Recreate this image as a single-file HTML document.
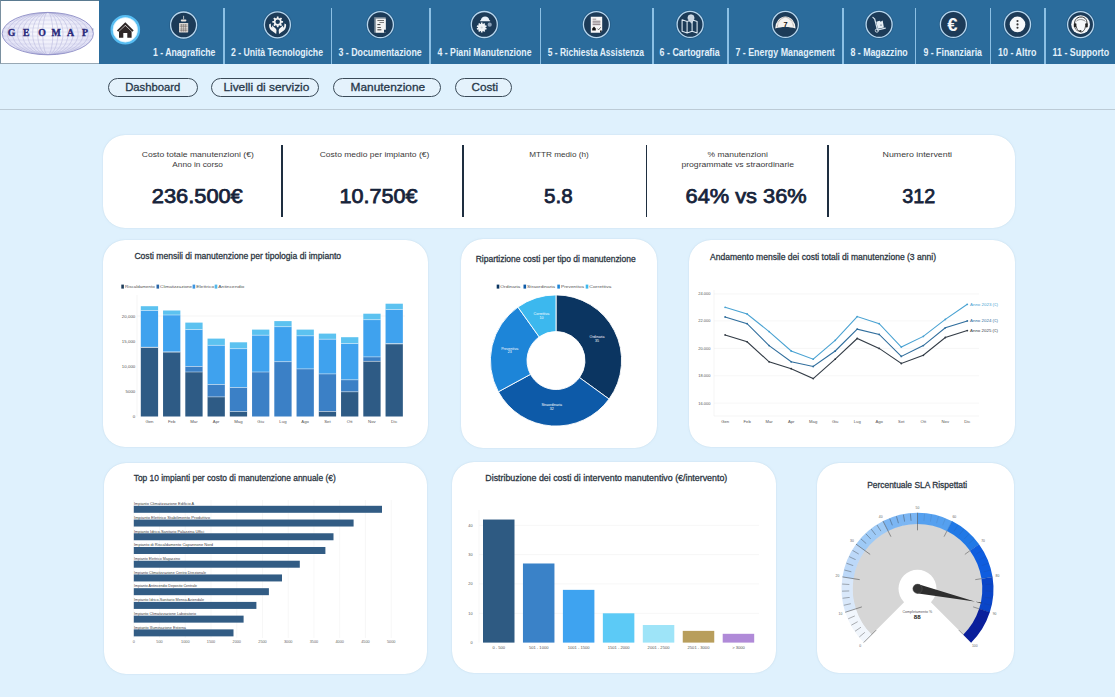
<!DOCTYPE html>
<html><head><meta charset="utf-8">
<style>
*{margin:0;padding:0;box-sizing:border-box}
html,body{width:1115px;height:697px;overflow:hidden;background:#dff1fd;font-family:"Liberation Sans",sans-serif}
#hdr{position:absolute;left:0;top:0;width:1115px;height:64px;background:#2b6c9c}
#logo{position:absolute;left:0;top:0;width:99px;height:64px;background:#fff;border-top:1px solid #5a7a90;border-left:1px solid #7a90a0;border-bottom:1px solid #98a8b4}
.sep{position:absolute;top:8px;width:1.6px;height:56px;background:#8cc0e4}
#line{position:absolute;left:0;top:108.7px;width:1115px;height:1.6px;background:#bccbd6}
.pill{position:absolute;top:78px;height:19px;border:1.3px solid #3a4a58;border-radius:10px;background:#e4f2fc}
.card{position:absolute;background:#fff;border-radius:22px;box-shadow:0 0 1.5px rgba(150,185,210,0.55)}
.kdiv{position:absolute;top:145px;width:1.6px;height:72px;background:#1e2e40}
</style></head><body>
<div id="hdr">
  <div id="logo"></div>
  <div class="sep" style="left:223px"></div>
  <div class="sep" style="left:330.5px"></div>
  <div class="sep" style="left:429px"></div>
  <div class="sep" style="left:539.5px"></div>
  <div class="sep" style="left:652px"></div>
  <div class="sep" style="left:727px"></div>
  <div class="sep" style="left:842px"></div>
  <div class="sep" style="left:914.5px"></div>
  <div class="sep" style="left:989.5px"></div>
  <div class="sep" style="left:1044px"></div>
</div>
<div id="line"></div>
<div class="pill" style="left:108px;width:90px"></div>
<div class="pill" style="left:211px;width:108px"></div>
<div class="pill" style="left:333px;width:107.5px"></div>
<div class="pill" style="left:455px;width:56.5px"></div>

<div class="card" style="left:102.5px;top:135px;width:912px;height:93.2px"></div>
<div class="card" style="left:103px;top:239.5px;width:325px;height:207.3px"></div>
<div class="card" style="left:460.7px;top:239.2px;width:196.3px;height:209.3px"></div>
<div class="card" style="left:688.6px;top:239.5px;width:326px;height:207.3px"></div>
<div class="card" style="left:104px;top:463px;width:323px;height:210.7px"></div>
<div class="card" style="left:452px;top:462px;width:323.8px;height:210.8px"></div>
<div class="card" style="left:817.4px;top:462.5px;width:197.1px;height:210.2px"></div>
<div class="kdiv" style="left:281px"></div>
<div class="kdiv" style="left:462px"></div>
<div class="kdiv" style="left:645.6px"></div>
<div class="kdiv" style="left:827px"></div>
<svg width="1115" height="697" viewBox="0 0 1115 697" style="position:absolute;left:0;top:0" font-family="Liberation Sans, sans-serif"><text x="134.4" y="259" font-size="8.6" fill="#2c3642" text-anchor="start" font-weight="normal" textLength="206.7" lengthAdjust="spacingAndGlyphs" stroke="#2c3642" stroke-width="0.28">Costi mensili di manutenzione per tipologia di impianto</text><rect x="121.30" y="284.60" width="2.60" height="4.00" fill="#1e3d5c"/><text x="124.89999999999999" y="288.4" font-size="4.0" fill="#555" text-anchor="start" font-weight="normal" textLength="30" lengthAdjust="spacingAndGlyphs">Riscaldamento</text><rect x="156.50" y="284.60" width="2.60" height="4.00" fill="#2b66a8"/><text x="160.1" y="288.4" font-size="4.0" fill="#555" text-anchor="start" font-weight="normal" textLength="32" lengthAdjust="spacingAndGlyphs">Climatizzazione</text><rect x="192.60" y="284.60" width="2.60" height="4.00" fill="#3d95e0"/><text x="196.2" y="288.4" font-size="4.0" fill="#555" text-anchor="start" font-weight="normal" textLength="18" lengthAdjust="spacingAndGlyphs">Elettrico</text><rect x="214.70" y="284.60" width="2.60" height="4.00" fill="#54b8ea"/><text x="218.29999999999998" y="288.4" font-size="4.0" fill="#555" text-anchor="start" font-weight="normal" textLength="26" lengthAdjust="spacingAndGlyphs">Antincendio</text><line x1="137.00" y1="295.00" x2="137.00" y2="416.50" stroke="#eeeeee" stroke-width="0.6"/><line x1="137.00" y1="316.00" x2="405.00" y2="316.00" stroke="#eeeeee" stroke-width="0.6"/><text x="135.3" y="317.5" font-size="4.4" fill="#555" text-anchor="end" font-weight="normal">20,000</text><text x="135.3" y="342.7" font-size="4.4" fill="#555" text-anchor="end" font-weight="normal">15,000</text><text x="135.3" y="367.9" font-size="4.4" fill="#555" text-anchor="end" font-weight="normal">10,000</text><text x="135.3" y="393.2" font-size="4.4" fill="#555" text-anchor="end" font-weight="normal">5000</text><text x="135.3" y="418.0" font-size="4.4" fill="#555" text-anchor="end" font-weight="normal">0</text><rect x="140.80" y="306.20" width="17.30" height="4.30" fill="#5cc2f0"/><rect x="140.80" y="310.50" width="17.30" height="36.80" fill="#3fa2ee"/><rect x="140.80" y="347.30" width="17.30" height="69.20" fill="#2e5b85"/><rect x="140.80" y="310.10" width="17.30" height="0.80" fill="#ffffff" opacity="0.55"/><rect x="140.80" y="346.90" width="17.30" height="0.80" fill="#ffffff" opacity="0.55"/><rect x="140.80" y="346.90" width="17.30" height="0.80" fill="#ffffff" opacity="0.55"/><text x="149.45000000000002" y="423" font-size="4.3" fill="#555" text-anchor="middle" font-weight="normal">Gen</text><rect x="163.05" y="310.50" width="17.30" height="4.50" fill="#5cc2f0"/><rect x="163.05" y="315.00" width="17.30" height="37.00" fill="#3fa2ee"/><rect x="163.05" y="352.00" width="17.30" height="64.50" fill="#2e5b85"/><rect x="163.05" y="314.60" width="17.30" height="0.80" fill="#ffffff" opacity="0.55"/><rect x="163.05" y="351.60" width="17.30" height="0.80" fill="#ffffff" opacity="0.55"/><rect x="163.05" y="351.60" width="17.30" height="0.80" fill="#ffffff" opacity="0.55"/><text x="171.70000000000002" y="423" font-size="4.3" fill="#555" text-anchor="middle" font-weight="normal">Feb</text><rect x="185.30" y="322.60" width="17.30" height="7.00" fill="#5cc2f0"/><rect x="185.30" y="329.60" width="17.30" height="36.80" fill="#3fa2ee"/><rect x="185.30" y="366.40" width="17.30" height="5.60" fill="#3b80c6"/><rect x="185.30" y="372.00" width="17.30" height="44.50" fill="#2e5b85"/><rect x="185.30" y="329.20" width="17.30" height="0.80" fill="#ffffff" opacity="0.55"/><rect x="185.30" y="366.00" width="17.30" height="0.80" fill="#ffffff" opacity="0.55"/><rect x="185.30" y="371.60" width="17.30" height="0.80" fill="#ffffff" opacity="0.55"/><text x="193.95000000000002" y="423" font-size="4.3" fill="#555" text-anchor="middle" font-weight="normal">Mar</text><rect x="207.55" y="338.60" width="17.30" height="6.70" fill="#5cc2f0"/><rect x="207.55" y="345.30" width="17.30" height="39.20" fill="#3fa2ee"/><rect x="207.55" y="384.50" width="17.30" height="12.40" fill="#3b80c6"/><rect x="207.55" y="396.90" width="17.30" height="19.60" fill="#2e5b85"/><rect x="207.55" y="344.90" width="17.30" height="0.80" fill="#ffffff" opacity="0.55"/><rect x="207.55" y="384.10" width="17.30" height="0.80" fill="#ffffff" opacity="0.55"/><rect x="207.55" y="396.50" width="17.30" height="0.80" fill="#ffffff" opacity="0.55"/><text x="216.20000000000002" y="423" font-size="4.3" fill="#555" text-anchor="middle" font-weight="normal">Apr</text><rect x="229.80" y="342.30" width="17.30" height="6.40" fill="#5cc2f0"/><rect x="229.80" y="348.70" width="17.30" height="38.80" fill="#3fa2ee"/><rect x="229.80" y="387.50" width="17.30" height="24.10" fill="#3b80c6"/><rect x="229.80" y="411.60" width="17.30" height="4.90" fill="#2e5b85"/><rect x="229.80" y="348.30" width="17.30" height="0.80" fill="#ffffff" opacity="0.55"/><rect x="229.80" y="387.10" width="17.30" height="0.80" fill="#ffffff" opacity="0.55"/><rect x="229.80" y="411.20" width="17.30" height="0.80" fill="#ffffff" opacity="0.55"/><text x="238.45000000000002" y="423" font-size="4.3" fill="#555" text-anchor="middle" font-weight="normal">Mag</text><rect x="252.05" y="329.60" width="17.30" height="5.60" fill="#5cc2f0"/><rect x="252.05" y="335.20" width="17.30" height="36.80" fill="#3fa2ee"/><rect x="252.05" y="372.00" width="17.30" height="44.50" fill="#3b80c6"/><rect x="252.05" y="334.80" width="17.30" height="0.80" fill="#ffffff" opacity="0.55"/><rect x="252.05" y="371.60" width="17.30" height="0.80" fill="#ffffff" opacity="0.55"/><text x="260.7" y="423" font-size="4.3" fill="#555" text-anchor="middle" font-weight="normal">Giu</text><rect x="274.30" y="321.10" width="17.30" height="5.60" fill="#5cc2f0"/><rect x="274.30" y="326.70" width="17.30" height="35.00" fill="#3fa2ee"/><rect x="274.30" y="361.70" width="17.30" height="54.80" fill="#3b80c6"/><rect x="274.30" y="326.30" width="17.30" height="0.80" fill="#ffffff" opacity="0.55"/><rect x="274.30" y="361.30" width="17.30" height="0.80" fill="#ffffff" opacity="0.55"/><text x="282.95" y="423" font-size="4.3" fill="#555" text-anchor="middle" font-weight="normal">Lug</text><rect x="296.55" y="329.60" width="17.30" height="6.20" fill="#5cc2f0"/><rect x="296.55" y="335.80" width="17.30" height="33.10" fill="#3fa2ee"/><rect x="296.55" y="368.90" width="17.30" height="47.60" fill="#3b80c6"/><rect x="296.55" y="335.40" width="17.30" height="0.80" fill="#ffffff" opacity="0.55"/><rect x="296.55" y="368.50" width="17.30" height="0.80" fill="#ffffff" opacity="0.55"/><text x="305.2" y="423" font-size="4.3" fill="#555" text-anchor="middle" font-weight="normal">Ago</text><rect x="318.80" y="333.60" width="17.30" height="5.60" fill="#5cc2f0"/><rect x="318.80" y="339.20" width="17.30" height="34.70" fill="#3fa2ee"/><rect x="318.80" y="373.90" width="17.30" height="37.60" fill="#3b80c6"/><rect x="318.80" y="411.50" width="17.30" height="5.00" fill="#2e5b85"/><rect x="318.80" y="338.80" width="17.30" height="0.80" fill="#ffffff" opacity="0.55"/><rect x="318.80" y="373.50" width="17.30" height="0.80" fill="#ffffff" opacity="0.55"/><rect x="318.80" y="411.10" width="17.30" height="0.80" fill="#ffffff" opacity="0.55"/><text x="327.45" y="423" font-size="4.3" fill="#555" text-anchor="middle" font-weight="normal">Set</text><rect x="341.05" y="337.20" width="17.30" height="6.40" fill="#5cc2f0"/><rect x="341.05" y="343.60" width="17.30" height="36.20" fill="#3fa2ee"/><rect x="341.05" y="379.80" width="17.30" height="12.00" fill="#3b80c6"/><rect x="341.05" y="391.80" width="17.30" height="24.70" fill="#2e5b85"/><rect x="341.05" y="343.20" width="17.30" height="0.80" fill="#ffffff" opacity="0.55"/><rect x="341.05" y="379.40" width="17.30" height="0.80" fill="#ffffff" opacity="0.55"/><rect x="341.05" y="391.40" width="17.30" height="0.80" fill="#ffffff" opacity="0.55"/><text x="349.7" y="423" font-size="4.3" fill="#555" text-anchor="middle" font-weight="normal">Ott</text><rect x="363.30" y="313.70" width="17.30" height="6.00" fill="#5cc2f0"/><rect x="363.30" y="319.70" width="17.30" height="37.20" fill="#3fa2ee"/><rect x="363.30" y="356.90" width="17.30" height="4.40" fill="#3b80c6"/><rect x="363.30" y="361.30" width="17.30" height="55.20" fill="#2e5b85"/><rect x="363.30" y="319.30" width="17.30" height="0.80" fill="#ffffff" opacity="0.55"/><rect x="363.30" y="356.50" width="17.30" height="0.80" fill="#ffffff" opacity="0.55"/><rect x="363.30" y="360.90" width="17.30" height="0.80" fill="#ffffff" opacity="0.55"/><text x="371.95" y="423" font-size="4.3" fill="#555" text-anchor="middle" font-weight="normal">Nov</text><rect x="385.55" y="303.70" width="17.30" height="5.80" fill="#5cc2f0"/><rect x="385.55" y="309.50" width="17.30" height="34.30" fill="#3fa2ee"/><rect x="385.55" y="343.80" width="17.30" height="72.70" fill="#2e5b85"/><rect x="385.55" y="309.10" width="17.30" height="0.80" fill="#ffffff" opacity="0.55"/><rect x="385.55" y="343.40" width="17.30" height="0.80" fill="#ffffff" opacity="0.55"/><rect x="385.55" y="343.40" width="17.30" height="0.80" fill="#ffffff" opacity="0.55"/><text x="394.2" y="423" font-size="4.3" fill="#555" text-anchor="middle" font-weight="normal">Dic</text><text x="555.7" y="261.5" font-size="8.4" fill="#2c3642" text-anchor="middle" font-weight="normal" textLength="160" lengthAdjust="spacingAndGlyphs" stroke="#2c3642" stroke-width="0.28">Ripartizione costi per tipo di manutenzione</text><rect x="496.70" y="284.60" width="2.60" height="4.00" fill="#0b3561"/><text x="500.3" y="288.4" font-size="4.0" fill="#555" text-anchor="start" font-weight="normal" textLength="20" lengthAdjust="spacingAndGlyphs">Ordinaria</text><rect x="523.50" y="284.60" width="2.60" height="4.00" fill="#0d5aa8"/><text x="527.1" y="288.4" font-size="4.0" fill="#555" text-anchor="start" font-weight="normal" textLength="28" lengthAdjust="spacingAndGlyphs">Straordinaria</text><rect x="557.30" y="284.60" width="2.60" height="4.00" fill="#1d85d8"/><text x="560.9" y="288.4" font-size="4.0" fill="#555" text-anchor="start" font-weight="normal" textLength="23" lengthAdjust="spacingAndGlyphs">Preventiva</text><rect x="585.70" y="284.60" width="2.60" height="4.00" fill="#3cb8ee"/><text x="589.3000000000001" y="288.4" font-size="4.0" fill="#555" text-anchor="start" font-weight="normal" textLength="22" lengthAdjust="spacingAndGlyphs">Correttiva</text><path d="M556.00,294.90 A65.6,65.6 0 0 1 609.07,399.06 L579.46,377.55 A29,29 0 0 0 556.00,331.50 Z" fill="#0b3561" stroke="#fff" stroke-width="0.9"/><path d="M609.07,399.06 A65.6,65.6 0 0 1 498.35,391.80 L530.51,374.34 A29,29 0 0 0 579.46,377.55 Z" fill="#0d5aa8" stroke="#fff" stroke-width="0.9"/><path d="M498.35,391.80 A65.6,65.6 0 0 1 517.91,307.09 L539.16,336.89 A29,29 0 0 0 530.51,374.34 Z" fill="#1d85d8" stroke="#fff" stroke-width="0.9"/><path d="M517.91,307.09 A65.6,65.6 0 0 1 556.00,294.90 L556.00,331.50 A29,29 0 0 0 539.16,336.89 Z" fill="#3cb8ee" stroke="#fff" stroke-width="0.9"/><text x="597" y="338" font-size="3.6" fill="#fff" text-anchor="middle" font-weight="normal">Ordinaria</text><text x="597" y="341.6" font-size="3.6" fill="#fff" text-anchor="middle" font-weight="normal">35</text><text x="551.7" y="406" font-size="3.6" fill="#fff" text-anchor="middle" font-weight="normal">Straordinaria</text><text x="551.7" y="409.6" font-size="3.6" fill="#fff" text-anchor="middle" font-weight="normal">32</text><text x="509.7" y="349.5" font-size="3.6" fill="#fff" text-anchor="middle" font-weight="normal">Preventiva</text><text x="509.7" y="353.1" font-size="3.6" fill="#fff" text-anchor="middle" font-weight="normal">23</text><text x="541.4" y="315" font-size="3.6" fill="#fff" text-anchor="middle" font-weight="normal">Correttiva</text><text x="541.4" y="318.6" font-size="3.6" fill="#fff" text-anchor="middle" font-weight="normal">10</text><text x="710" y="259.5" font-size="8.4" fill="#2c3642" text-anchor="start" font-weight="normal" textLength="226" lengthAdjust="spacingAndGlyphs" stroke="#2c3642" stroke-width="0.28">Andamento mensile dei costi totali di manutenzione (3 anni)</text><line x1="714.00" y1="294.00" x2="979.00" y2="294.00" stroke="#f0f0f0" stroke-width="0.6"/><text x="710.5" y="295.4" font-size="4.0" fill="#555" text-anchor="end" font-weight="normal">24.000</text><line x1="714.00" y1="320.90" x2="979.00" y2="320.90" stroke="#f0f0f0" stroke-width="0.6"/><text x="710.5" y="322.29999999999995" font-size="4.0" fill="#555" text-anchor="end" font-weight="normal">22.000</text><line x1="714.00" y1="348.40" x2="979.00" y2="348.40" stroke="#f0f0f0" stroke-width="0.6"/><text x="710.5" y="349.79999999999995" font-size="4.0" fill="#555" text-anchor="end" font-weight="normal">20.000</text><line x1="714.00" y1="375.80" x2="979.00" y2="375.80" stroke="#f0f0f0" stroke-width="0.6"/><text x="710.5" y="377.2" font-size="4.0" fill="#555" text-anchor="end" font-weight="normal">18.000</text><line x1="714.00" y1="403.10" x2="979.00" y2="403.10" stroke="#f0f0f0" stroke-width="0.6"/><text x="710.5" y="404.5" font-size="4.0" fill="#555" text-anchor="end" font-weight="normal">16.000</text><line x1="714.00" y1="290.00" x2="714.00" y2="416.00" stroke="#eeeeee" stroke-width="0.6"/><line x1="714.00" y1="416.00" x2="979.00" y2="416.00" stroke="#eeeeee" stroke-width="0.6"/><text x="725.1" y="423" font-size="4.2" fill="#555" text-anchor="middle" font-weight="normal">Gen</text><text x="747.12" y="423" font-size="4.2" fill="#555" text-anchor="middle" font-weight="normal">Feb</text><text x="769.14" y="423" font-size="4.2" fill="#555" text-anchor="middle" font-weight="normal">Mar</text><text x="791.1600000000001" y="423" font-size="4.2" fill="#555" text-anchor="middle" font-weight="normal">Apr</text><text x="813.1800000000001" y="423" font-size="4.2" fill="#555" text-anchor="middle" font-weight="normal">Mag</text><text x="835.2" y="423" font-size="4.2" fill="#555" text-anchor="middle" font-weight="normal">Giu</text><text x="857.22" y="423" font-size="4.2" fill="#555" text-anchor="middle" font-weight="normal">Lug</text><text x="879.24" y="423" font-size="4.2" fill="#555" text-anchor="middle" font-weight="normal">Ago</text><text x="901.26" y="423" font-size="4.2" fill="#555" text-anchor="middle" font-weight="normal">Set</text><text x="923.28" y="423" font-size="4.2" fill="#555" text-anchor="middle" font-weight="normal">Ott</text><text x="945.3" y="423" font-size="4.2" fill="#555" text-anchor="middle" font-weight="normal">Nov</text><text x="967.32" y="423" font-size="4.2" fill="#555" text-anchor="middle" font-weight="normal">Dic</text><polyline points="725.1,334.9 747.1,341.8 769.1,361.8 791.2,368.7 813.2,378.6 835.2,359.2 857.2,338.5 879.2,348.4 901.3,363.5 923.3,355.3 945.3,337.5 967.3,330.6" fill="none" stroke="#333c46" stroke-width="1.1"/><circle cx="725.1" cy="334.9" r="0.9" fill="#333c46"/><circle cx="747.1" cy="341.8" r="0.9" fill="#333c46"/><circle cx="769.1" cy="361.8" r="0.9" fill="#333c46"/><circle cx="791.2" cy="368.7" r="0.9" fill="#333c46"/><circle cx="813.2" cy="378.6" r="0.9" fill="#333c46"/><circle cx="835.2" cy="359.2" r="0.9" fill="#333c46"/><circle cx="857.2" cy="338.5" r="0.9" fill="#333c46"/><circle cx="879.2" cy="348.4" r="0.9" fill="#333c46"/><circle cx="901.3" cy="363.5" r="0.9" fill="#333c46"/><circle cx="923.3" cy="355.3" r="0.9" fill="#333c46"/><circle cx="945.3" cy="337.5" r="0.9" fill="#333c46"/><circle cx="967.3" cy="330.6" r="0.9" fill="#333c46"/><text x="970" y="331.90000000000003" font-size="3.6" fill="#333c46" text-anchor="start" font-weight="normal" textLength="28" lengthAdjust="spacingAndGlyphs">Anno 2025 (€)</text><polyline points="725.1,317.0 747.1,323.7 769.1,345.6 791.2,361.8 813.2,366.5 835.2,351.0 857.2,329.1 879.2,334.4 901.3,356.4 923.3,345.6 945.3,327.8 967.3,320.9" fill="none" stroke="#2f6d9c" stroke-width="1.1"/><circle cx="725.1" cy="317.0" r="0.9" fill="#2f6d9c"/><circle cx="747.1" cy="323.7" r="0.9" fill="#2f6d9c"/><circle cx="769.1" cy="345.6" r="0.9" fill="#2f6d9c"/><circle cx="791.2" cy="361.8" r="0.9" fill="#2f6d9c"/><circle cx="813.2" cy="366.5" r="0.9" fill="#2f6d9c"/><circle cx="835.2" cy="351.0" r="0.9" fill="#2f6d9c"/><circle cx="857.2" cy="329.1" r="0.9" fill="#2f6d9c"/><circle cx="879.2" cy="334.4" r="0.9" fill="#2f6d9c"/><circle cx="901.3" cy="356.4" r="0.9" fill="#2f6d9c"/><circle cx="923.3" cy="345.6" r="0.9" fill="#2f6d9c"/><circle cx="945.3" cy="327.8" r="0.9" fill="#2f6d9c"/><circle cx="967.3" cy="320.9" r="0.9" fill="#2f6d9c"/><text x="970" y="322.2" font-size="3.6" fill="#2f6d9c" text-anchor="start" font-weight="normal" textLength="28" lengthAdjust="spacingAndGlyphs">Anno 2024 (€)</text><polyline points="725.1,307.3 747.1,314.0 769.1,331.6 791.2,351.0 813.2,359.2 835.2,340.3 857.2,316.6 879.2,323.7 901.3,347.1 923.3,336.4 945.3,319.4 967.3,304.3" fill="none" stroke="#49a2d2" stroke-width="1.1"/><circle cx="725.1" cy="307.3" r="0.9" fill="#49a2d2"/><circle cx="747.1" cy="314.0" r="0.9" fill="#49a2d2"/><circle cx="769.1" cy="331.6" r="0.9" fill="#49a2d2"/><circle cx="791.2" cy="351.0" r="0.9" fill="#49a2d2"/><circle cx="813.2" cy="359.2" r="0.9" fill="#49a2d2"/><circle cx="835.2" cy="340.3" r="0.9" fill="#49a2d2"/><circle cx="857.2" cy="316.6" r="0.9" fill="#49a2d2"/><circle cx="879.2" cy="323.7" r="0.9" fill="#49a2d2"/><circle cx="901.3" cy="347.1" r="0.9" fill="#49a2d2"/><circle cx="923.3" cy="336.4" r="0.9" fill="#49a2d2"/><circle cx="945.3" cy="319.4" r="0.9" fill="#49a2d2"/><circle cx="967.3" cy="304.3" r="0.9" fill="#49a2d2"/><text x="970" y="305.6" font-size="3.6" fill="#49a2d2" text-anchor="start" font-weight="normal" textLength="28" lengthAdjust="spacingAndGlyphs">Anno 2023 (€)</text><text x="133.7" y="481" font-size="8.6" fill="#2c3642" text-anchor="start" font-weight="normal" textLength="202" lengthAdjust="spacingAndGlyphs" stroke="#2c3642" stroke-width="0.28">Top 10 impianti per costo di manutenzione annuale (€)</text><line x1="133.80" y1="500.00" x2="133.80" y2="638.00" stroke="#f2f2f2" stroke-width="0.6"/><text x="133.8" y="643" font-size="3.8" fill="#666" text-anchor="middle" font-weight="normal">0</text><line x1="159.54" y1="500.00" x2="159.54" y2="638.00" stroke="#f2f2f2" stroke-width="0.6"/><text x="159.54000000000002" y="643" font-size="3.8" fill="#666" text-anchor="middle" font-weight="normal">500</text><line x1="185.28" y1="500.00" x2="185.28" y2="638.00" stroke="#f2f2f2" stroke-width="0.6"/><text x="185.28" y="643" font-size="3.8" fill="#666" text-anchor="middle" font-weight="normal">1000</text><line x1="211.02" y1="500.00" x2="211.02" y2="638.00" stroke="#f2f2f2" stroke-width="0.6"/><text x="211.02" y="643" font-size="3.8" fill="#666" text-anchor="middle" font-weight="normal">1500</text><line x1="236.76" y1="500.00" x2="236.76" y2="638.00" stroke="#f2f2f2" stroke-width="0.6"/><text x="236.76" y="643" font-size="3.8" fill="#666" text-anchor="middle" font-weight="normal">2000</text><line x1="262.50" y1="500.00" x2="262.50" y2="638.00" stroke="#f2f2f2" stroke-width="0.6"/><text x="262.5" y="643" font-size="3.8" fill="#666" text-anchor="middle" font-weight="normal">2500</text><line x1="288.24" y1="500.00" x2="288.24" y2="638.00" stroke="#f2f2f2" stroke-width="0.6"/><text x="288.24" y="643" font-size="3.8" fill="#666" text-anchor="middle" font-weight="normal">3000</text><line x1="313.98" y1="500.00" x2="313.98" y2="638.00" stroke="#f2f2f2" stroke-width="0.6"/><text x="313.98" y="643" font-size="3.8" fill="#666" text-anchor="middle" font-weight="normal">3500</text><line x1="339.72" y1="500.00" x2="339.72" y2="638.00" stroke="#f2f2f2" stroke-width="0.6"/><text x="339.72" y="643" font-size="3.8" fill="#666" text-anchor="middle" font-weight="normal">4000</text><line x1="365.46" y1="500.00" x2="365.46" y2="638.00" stroke="#f2f2f2" stroke-width="0.6"/><text x="365.46000000000004" y="643" font-size="3.8" fill="#666" text-anchor="middle" font-weight="normal">4500</text><line x1="391.20" y1="500.00" x2="391.20" y2="638.00" stroke="#f2f2f2" stroke-width="0.6"/><text x="391.2" y="643" font-size="3.8" fill="#666" text-anchor="middle" font-weight="normal">5000</text><rect x="133.80" y="505.80" width="248.20" height="7.00" fill="#325c84"/><text x="134" y="505.1" font-size="3.4" fill="#444" text-anchor="start" font-weight="normal" textLength="60" lengthAdjust="spacingAndGlyphs">Impianto Climatizzazione Edificio A</text><rect x="133.80" y="519.53" width="219.80" height="7.00" fill="#325c84"/><text x="134" y="518.8299999999999" font-size="3.4" fill="#444" text-anchor="start" font-weight="normal" textLength="76" lengthAdjust="spacingAndGlyphs">Impianto Elettrico Stabilimento Produttivo</text><rect x="133.80" y="533.26" width="199.70" height="7.00" fill="#325c84"/><text x="134" y="532.56" font-size="3.4" fill="#444" text-anchor="start" font-weight="normal" textLength="70" lengthAdjust="spacingAndGlyphs">Impianto Idrico-Sanitario Palazzina Uffici</text><rect x="133.80" y="546.99" width="191.60" height="7.00" fill="#325c84"/><text x="134" y="546.29" font-size="3.4" fill="#444" text-anchor="start" font-weight="normal" textLength="79" lengthAdjust="spacingAndGlyphs">Impianto di Riscaldamento Capannone Nord</text><rect x="133.80" y="560.72" width="166.00" height="7.00" fill="#325c84"/><text x="134" y="560.02" font-size="3.4" fill="#444" text-anchor="start" font-weight="normal" textLength="46" lengthAdjust="spacingAndGlyphs">Impianto Elettrico Magazzino</text><rect x="133.80" y="574.45" width="148.20" height="7.00" fill="#325c84"/><text x="134" y="573.75" font-size="3.4" fill="#444" text-anchor="start" font-weight="normal" textLength="72" lengthAdjust="spacingAndGlyphs">Impianto Climatizzazione Centro Direzionale</text><rect x="133.80" y="588.18" width="135.10" height="7.00" fill="#325c84"/><text x="134" y="587.48" font-size="3.4" fill="#444" text-anchor="start" font-weight="normal" textLength="63" lengthAdjust="spacingAndGlyphs">Impianto Antincendio Deposito Centrale</text><rect x="133.80" y="601.91" width="122.60" height="7.00" fill="#325c84"/><text x="134" y="601.2099999999999" font-size="3.4" fill="#444" text-anchor="start" font-weight="normal" textLength="70" lengthAdjust="spacingAndGlyphs">Impianto Idrico-Sanitario Mensa Aziendale</text><rect x="133.80" y="615.64" width="109.80" height="7.00" fill="#325c84"/><text x="134" y="614.9399999999999" font-size="3.4" fill="#444" text-anchor="start" font-weight="normal" textLength="62" lengthAdjust="spacingAndGlyphs">Impianto Climatizzazione Laboratorio</text><rect x="133.80" y="629.37" width="99.70" height="7.00" fill="#325c84"/><text x="134" y="628.67" font-size="3.4" fill="#444" text-anchor="start" font-weight="normal" textLength="52" lengthAdjust="spacingAndGlyphs">Impianto Illuminazione Esterna</text><text x="485.3" y="480.5" font-size="8.4" fill="#2c3642" text-anchor="start" font-weight="normal" textLength="242" lengthAdjust="spacingAndGlyphs" stroke="#2c3642" stroke-width="0.28">Distribuzione dei costi di intervento manutentivo (€/intervento)</text><line x1="479.00" y1="525.30" x2="759.00" y2="525.30" stroke="#f0f0f0" stroke-width="0.6"/><text x="472.5" y="526.5999999999999" font-size="3.8" fill="#555" text-anchor="end" font-weight="normal">40</text><line x1="479.00" y1="554.60" x2="759.00" y2="554.60" stroke="#f0f0f0" stroke-width="0.6"/><text x="472.5" y="555.9" font-size="3.8" fill="#555" text-anchor="end" font-weight="normal">30</text><line x1="479.00" y1="583.90" x2="759.00" y2="583.90" stroke="#f0f0f0" stroke-width="0.6"/><text x="472.5" y="585.1999999999999" font-size="3.8" fill="#555" text-anchor="end" font-weight="normal">20</text><line x1="479.00" y1="613.30" x2="759.00" y2="613.30" stroke="#f0f0f0" stroke-width="0.6"/><text x="472.5" y="614.5999999999999" font-size="3.8" fill="#555" text-anchor="end" font-weight="normal">10</text><text x="472.5" y="643.9" font-size="3.8" fill="#555" text-anchor="end" font-weight="normal">0</text><line x1="479.00" y1="510.00" x2="479.00" y2="642.60" stroke="#f2f2f2" stroke-width="0.6"/><rect x="483.00" y="519.54" width="31.50" height="123.06" fill="#2e5a82"/><text x="498.75" y="648.8" font-size="4.1" fill="#555" text-anchor="middle" font-weight="normal">0 - 500</text><rect x="522.95" y="563.49" width="31.50" height="79.11" fill="#3a82c8"/><text x="538.7" y="648.8" font-size="4.1" fill="#555" text-anchor="middle" font-weight="normal">501 - 1000</text><rect x="562.90" y="589.86" width="31.50" height="52.74" fill="#3ea3f0"/><text x="578.65" y="648.8" font-size="4.1" fill="#555" text-anchor="middle" font-weight="normal">1001 - 1500</text><rect x="602.85" y="613.30" width="31.50" height="29.30" fill="#5ccaf6"/><text x="618.6" y="648.8" font-size="4.1" fill="#555" text-anchor="middle" font-weight="normal">1501 - 2000</text><rect x="642.80" y="625.02" width="31.50" height="17.58" fill="#9ee4f8"/><text x="658.55" y="648.8" font-size="4.1" fill="#555" text-anchor="middle" font-weight="normal">2001 - 2500</text><rect x="682.75" y="630.88" width="31.50" height="11.72" fill="#b89e5c"/><text x="698.5" y="648.8" font-size="4.1" fill="#555" text-anchor="middle" font-weight="normal">2501 - 3000</text><rect x="722.70" y="633.81" width="31.50" height="8.79" fill="#b08ad8"/><text x="738.45" y="648.8" font-size="4.1" fill="#555" text-anchor="middle" font-weight="normal">> 3000</text><text x="917.2" y="488.2" font-size="8.4" fill="#2c3642" text-anchor="middle" font-weight="normal" textLength="100" lengthAdjust="spacingAndGlyphs" stroke="#2c3642" stroke-width="0.28">Percentuale SLA Rispettati</text><path d="M871.33,634.97 A65.3,65.3 0 1 1 963.67,634.97 L930.94,602.24 A19,19 0 1 0 904.06,602.24 Z" fill="#d6d6d6"/><path d="M863.76,642.54 A76,76 0 0 1 845.16,612.10 L855.82,608.66 A64.8,64.8 0 0 0 871.68,634.62 Z" fill="#f1f6fc"/><path d="M845.22,612.29 A76,76 0 0 1 842.47,576.71 L853.52,578.50 A64.8,64.8 0 0 0 855.87,608.82 Z" fill="#d9e8fa"/><path d="M842.44,576.91 A76,76 0 0 1 856.13,543.97 L865.18,550.57 A64.8,64.8 0 0 0 853.50,578.66 Z" fill="#bcd8f8"/><path d="M856.01,544.13 A76,76 0 0 1 883.17,520.99 L888.23,530.99 A64.8,64.8 0 0 0 865.08,550.71 Z" fill="#9ecaf6"/><path d="M883.00,521.08 A76,76 0 0 1 917.70,512.80 L917.67,524.00 A64.8,64.8 0 0 0 888.08,531.06 Z" fill="#7cb6f3"/><path d="M917.50,512.80 A76,76 0 0 1 952.18,521.17 L947.07,531.14 A64.8,64.8 0 0 0 917.50,524.00 Z" fill="#55a0ef"/><path d="M952.00,521.08 A76,76 0 0 1 979.10,544.29 L970.02,550.85 A64.8,64.8 0 0 0 946.92,531.06 Z" fill="#2179e6"/><path d="M978.99,544.13 A76,76 0 0 1 992.60,577.11 L981.53,578.83 A64.8,64.8 0 0 0 969.92,550.71 Z" fill="#0f5ddf"/><path d="M992.56,576.91 A76,76 0 0 1 989.72,612.47 L979.08,608.99 A64.8,64.8 0 0 0 981.50,578.66 Z" fill="#0a45c8"/><path d="M989.78,612.29 A76,76 0 0 1 971.10,642.68 L963.20,634.74 A64.8,64.8 0 0 0 979.13,608.82 Z" fill="#0a1f9c"/><line x1="863.76" y1="642.54" x2="876.13" y2="630.17" stroke="#444" stroke-width="0.55"/><text x="860.2243507238896" y="647.2756492761104" font-size="3.4" fill="#666" text-anchor="middle" font-weight="normal">0</text><line x1="859.33" y1="636.93" x2="864.87" y2="632.34" stroke="#333" stroke-width="0.5" opacity="0.75"/><line x1="855.06" y1="631.24" x2="861.01" y2="627.19" stroke="#333" stroke-width="0.5" opacity="0.75"/><line x1="851.34" y1="625.17" x2="857.65" y2="621.70" stroke="#333" stroke-width="0.5" opacity="0.75"/><line x1="848.21" y1="618.78" x2="854.82" y2="615.93" stroke="#333" stroke-width="0.5" opacity="0.75"/><line x1="845.22" y1="612.29" x2="861.86" y2="606.88" stroke="#444" stroke-width="0.55"/><text x="840.4644221800926" y="615.0303765443707" font-size="3.4" fill="#666" text-anchor="middle" font-weight="normal">10</text><line x1="843.82" y1="605.27" x2="850.84" y2="603.70" stroke="#333" stroke-width="0.5" opacity="0.75"/><line x1="842.60" y1="598.26" x2="849.74" y2="597.36" stroke="#333" stroke-width="0.5" opacity="0.75"/><line x1="842.04" y1="591.17" x2="849.23" y2="590.95" stroke="#333" stroke-width="0.5" opacity="0.75"/><line x1="842.15" y1="584.06" x2="849.33" y2="584.51" stroke="#333" stroke-width="0.5" opacity="0.75"/><line x1="842.44" y1="576.91" x2="859.72" y2="579.65" stroke="#444" stroke-width="0.55"/><text x="837.4972444117939" y="577.3288083317414" font-size="3.4" fill="#666" text-anchor="middle" font-weight="normal">20</text><line x1="844.37" y1="570.02" x2="851.35" y2="571.81" stroke="#333" stroke-width="0.5" opacity="0.75"/><line x1="846.46" y1="563.23" x2="853.24" y2="565.66" stroke="#333" stroke-width="0.5" opacity="0.75"/><line x1="849.19" y1="556.65" x2="855.70" y2="559.72" stroke="#333" stroke-width="0.5" opacity="0.75"/><line x1="852.51" y1="550.37" x2="858.71" y2="554.03" stroke="#333" stroke-width="0.5" opacity="0.75"/><line x1="856.01" y1="544.13" x2="870.17" y2="554.41" stroke="#444" stroke-width="0.55"/><text x="851.9696234556293" y="542.3893945643097" font-size="3.4" fill="#666" text-anchor="middle" font-weight="normal">30</text><line x1="860.87" y1="538.87" x2="866.27" y2="543.63" stroke="#333" stroke-width="0.5" opacity="0.75"/><line x1="865.82" y1="533.76" x2="870.75" y2="539.01" stroke="#333" stroke-width="0.5" opacity="0.75"/><line x1="871.23" y1="529.14" x2="875.64" y2="534.83" stroke="#333" stroke-width="0.5" opacity="0.75"/><line x1="877.05" y1="525.05" x2="880.90" y2="531.13" stroke="#333" stroke-width="0.5" opacity="0.75"/><line x1="883.00" y1="521.08" x2="890.94" y2="536.68" stroke="#444" stroke-width="0.55"/><text x="880.7267695210967" y="517.8284715407422" font-size="3.4" fill="#666" text-anchor="middle" font-weight="normal">40</text><line x1="889.71" y1="518.60" x2="892.36" y2="525.30" stroke="#333" stroke-width="0.5" opacity="0.75"/><line x1="896.44" y1="516.30" x2="898.44" y2="523.21" stroke="#333" stroke-width="0.5" opacity="0.75"/><line x1="903.35" y1="514.64" x2="904.70" y2="521.71" stroke="#333" stroke-width="0.5" opacity="0.75"/><line x1="910.39" y1="513.64" x2="911.07" y2="520.80" stroke="#333" stroke-width="0.5" opacity="0.75"/><line x1="917.50" y1="512.80" x2="917.50" y2="530.30" stroke="#444" stroke-width="0.55"/><text x="917.5" y="508.99999999999994" font-size="3.4" fill="#666" text-anchor="middle" font-weight="normal">50</text><line x1="924.61" y1="513.64" x2="923.93" y2="520.80" stroke="#333" stroke-width="0.5" opacity="0.18"/><line x1="931.65" y1="514.64" x2="930.30" y2="521.71" stroke="#333" stroke-width="0.5" opacity="0.18"/><line x1="938.56" y1="516.30" x2="936.56" y2="523.21" stroke="#333" stroke-width="0.5" opacity="0.18"/><line x1="945.29" y1="518.60" x2="942.64" y2="525.30" stroke="#333" stroke-width="0.5" opacity="0.18"/><line x1="952.00" y1="521.08" x2="946.92" y2="531.06" stroke="#333" stroke-width="0.5" opacity="0.2"/><line x1="946.92" y1="531.06" x2="944.06" y2="536.68" stroke="#555" stroke-width="0.55"/><text x="954.2732304789033" y="517.8284715407422" font-size="3.4" fill="#666" text-anchor="middle" font-weight="normal">60</text><line x1="957.95" y1="525.05" x2="954.10" y2="531.13" stroke="#333" stroke-width="0.5" opacity="0.18"/><line x1="963.77" y1="529.14" x2="959.36" y2="534.83" stroke="#333" stroke-width="0.5" opacity="0.18"/><line x1="969.18" y1="533.76" x2="964.25" y2="539.01" stroke="#333" stroke-width="0.5" opacity="0.18"/><line x1="974.13" y1="538.87" x2="968.73" y2="543.63" stroke="#333" stroke-width="0.5" opacity="0.18"/><line x1="978.99" y1="544.13" x2="969.92" y2="550.71" stroke="#333" stroke-width="0.5" opacity="0.2"/><line x1="969.92" y1="550.71" x2="964.83" y2="554.41" stroke="#555" stroke-width="0.55"/><text x="983.0303765443707" y="542.3893945643097" font-size="3.4" fill="#666" text-anchor="middle" font-weight="normal">70</text><line x1="982.49" y1="550.37" x2="976.29" y2="554.03" stroke="#333" stroke-width="0.5" opacity="0.18"/><line x1="985.81" y1="556.65" x2="979.30" y2="559.72" stroke="#333" stroke-width="0.5" opacity="0.18"/><line x1="988.54" y1="563.23" x2="981.76" y2="565.66" stroke="#333" stroke-width="0.5" opacity="0.18"/><line x1="990.63" y1="570.02" x2="983.65" y2="571.81" stroke="#333" stroke-width="0.5" opacity="0.18"/><line x1="992.56" y1="576.91" x2="981.50" y2="578.66" stroke="#333" stroke-width="0.5" opacity="0.2"/><line x1="981.50" y1="578.66" x2="975.28" y2="579.65" stroke="#555" stroke-width="0.55"/><text x="997.5027555882061" y="577.3288083317412" font-size="3.4" fill="#666" text-anchor="middle" font-weight="normal">80</text><line x1="992.85" y1="584.06" x2="985.67" y2="584.51" stroke="#333" stroke-width="0.5" opacity="0.18"/><line x1="992.96" y1="591.17" x2="985.77" y2="590.95" stroke="#333" stroke-width="0.5" opacity="0.18"/><line x1="992.40" y1="598.26" x2="985.26" y2="597.36" stroke="#333" stroke-width="0.5" opacity="0.18"/><line x1="991.18" y1="605.27" x2="984.16" y2="603.70" stroke="#333" stroke-width="0.5" opacity="0.18"/><line x1="989.78" y1="612.29" x2="979.13" y2="608.82" stroke="#333" stroke-width="0.5" opacity="0.2"/><line x1="979.13" y1="608.82" x2="973.14" y2="606.88" stroke="#555" stroke-width="0.55"/><text x="994.5355778199074" y="615.0303765443707" font-size="3.4" fill="#666" text-anchor="middle" font-weight="normal">90</text><line x1="986.79" y1="618.78" x2="980.18" y2="615.93" stroke="#333" stroke-width="0.5" opacity="0.18"/><line x1="983.66" y1="625.17" x2="977.35" y2="621.70" stroke="#333" stroke-width="0.5" opacity="0.18"/><line x1="979.94" y1="631.24" x2="973.99" y2="627.19" stroke="#333" stroke-width="0.5" opacity="0.18"/><line x1="975.67" y1="636.93" x2="970.13" y2="632.34" stroke="#333" stroke-width="0.5" opacity="0.18"/><line x1="971.24" y1="642.54" x2="963.32" y2="634.62" stroke="#333" stroke-width="0.5" opacity="0.2"/><line x1="963.32" y1="634.62" x2="958.87" y2="630.17" stroke="#555" stroke-width="0.55"/><text x="974.7756492761104" y="647.2756492761104" font-size="3.4" fill="#666" text-anchor="middle" font-weight="normal">100</text><path d="M918.50,584.31 L981.31,603.58 L981.53,602.60 L916.50,593.29 Z" fill="#2e2e2e"/><circle cx="917.5" cy="588.8" r="4.7" fill="#333" stroke="#666" stroke-width="0.4"/><text x="917.3" y="612.6" font-size="3.6" fill="#555" text-anchor="middle" font-weight="normal">Completamento %</text><text x="917.3" y="619" font-size="6.2" fill="#222" text-anchor="middle" font-weight="bold">88</text><text x="153" y="56.2" font-size="10.2" fill="#e2f0fa" text-anchor="start" font-weight="bold" textLength="62.4" lengthAdjust="spacingAndGlyphs">1 - Anagrafiche</text><text x="230.9" y="56.2" font-size="10.2" fill="#e2f0fa" text-anchor="start" font-weight="bold" textLength="92.1" lengthAdjust="spacingAndGlyphs">2 - Unità Tecnologiche</text><text x="338.4" y="56.2" font-size="10.2" fill="#e2f0fa" text-anchor="start" font-weight="bold" textLength="83.3" lengthAdjust="spacingAndGlyphs">3 - Documentazione</text><text x="437.5" y="56.2" font-size="10.2" fill="#e2f0fa" text-anchor="start" font-weight="bold" textLength="94.0" lengthAdjust="spacingAndGlyphs">4 - Piani Manutenzione</text><text x="547.7" y="56.2" font-size="10.2" fill="#e2f0fa" text-anchor="start" font-weight="bold" textLength="96.4" lengthAdjust="spacingAndGlyphs">5 - Richiesta Assistenza</text><text x="659.6" y="56.2" font-size="10.2" fill="#e2f0fa" text-anchor="start" font-weight="bold" textLength="60.1" lengthAdjust="spacingAndGlyphs">6 - Cartografia</text><text x="735.4" y="56.2" font-size="10.2" fill="#e2f0fa" text-anchor="start" font-weight="bold" textLength="99.4" lengthAdjust="spacingAndGlyphs">7 - Energy Management</text><text x="850.4" y="56.2" font-size="10.2" fill="#e2f0fa" text-anchor="start" font-weight="bold" textLength="57.3" lengthAdjust="spacingAndGlyphs">8 - Magazzino</text><text x="923.4" y="56.2" font-size="10.2" fill="#e2f0fa" text-anchor="start" font-weight="bold" textLength="58.6" lengthAdjust="spacingAndGlyphs">9 - Finanziaria</text><text x="998.1" y="56.2" font-size="10.2" fill="#e2f0fa" text-anchor="start" font-weight="bold" textLength="38.3" lengthAdjust="spacingAndGlyphs">10 - Altro</text><text x="1052.6" y="56.2" font-size="10.2" fill="#e2f0fa" text-anchor="start" font-weight="bold" textLength="56.6" lengthAdjust="spacingAndGlyphs">11 - Supporto</text><text x="125.2" y="91.2" font-size="11.2" fill="#27384a" text-anchor="start" font-weight="normal" textLength="55.2" lengthAdjust="spacingAndGlyphs" stroke="#27384a" stroke-width="0.3">Dashboard</text><text x="223.4" y="91.2" font-size="11.2" fill="#27384a" text-anchor="start" font-weight="normal" textLength="86.0" lengthAdjust="spacingAndGlyphs" stroke="#27384a" stroke-width="0.3">Livelli di servizio</text><text x="350.5" y="91.2" font-size="11.2" fill="#27384a" text-anchor="start" font-weight="normal" textLength="74.7" lengthAdjust="spacingAndGlyphs" stroke="#27384a" stroke-width="0.3">Manutenzione</text><text x="471.5" y="91.2" font-size="11.2" fill="#27384a" text-anchor="start" font-weight="normal" textLength="26.6" lengthAdjust="spacingAndGlyphs" stroke="#27384a" stroke-width="0.3">Costi</text><text x="197.8" y="156.7" font-size="8.1" fill="#3a3a3a" text-anchor="middle" font-weight="normal" textLength="112" lengthAdjust="spacingAndGlyphs">Costo totale manutenzioni (€)</text><text x="197.6" y="167.4" font-size="8.1" fill="#3a3a3a" text-anchor="middle" font-weight="normal" textLength="50.7" lengthAdjust="spacingAndGlyphs">Anno in corso</text><text x="197.3" y="203" font-size="20" fill="#16233a" text-anchor="middle" font-weight="normal" textLength="90.9" lengthAdjust="spacingAndGlyphs" stroke="#16233a" stroke-width="0.75">236.500€</text><text x="374.5" y="156.7" font-size="8.1" fill="#3a3a3a" text-anchor="middle" font-weight="normal" textLength="109.6" lengthAdjust="spacingAndGlyphs">Costo medio per impianto (€)</text><text x="378.5" y="203" font-size="20" fill="#16233a" text-anchor="middle" font-weight="normal" textLength="78" lengthAdjust="spacingAndGlyphs" stroke="#16233a" stroke-width="0.75">10.750€</text><text x="559" y="156.7" font-size="8.1" fill="#3a3a3a" text-anchor="middle" font-weight="normal" textLength="59.5" lengthAdjust="spacingAndGlyphs">MTTR medio (h)</text><text x="558.3" y="203" font-size="20" fill="#16233a" text-anchor="middle" font-weight="normal" textLength="28.6" lengthAdjust="spacingAndGlyphs" stroke="#16233a" stroke-width="0.75">5.8</text><text x="737.7" y="156.7" font-size="8.1" fill="#3a3a3a" text-anchor="middle" font-weight="normal" textLength="60.2" lengthAdjust="spacingAndGlyphs">% manutenzioni</text><text x="737.7" y="167.4" font-size="8.1" fill="#3a3a3a" text-anchor="middle" font-weight="normal" textLength="112.6" lengthAdjust="spacingAndGlyphs">programmate vs straordinarie</text><text x="746.1" y="203" font-size="20" fill="#16233a" text-anchor="middle" font-weight="normal" textLength="121" lengthAdjust="spacingAndGlyphs" stroke="#16233a" stroke-width="0.75">64% vs 36%</text><text x="917.3" y="156.7" font-size="8.1" fill="#3a3a3a" text-anchor="middle" font-weight="normal" textLength="69.5" lengthAdjust="spacingAndGlyphs">Numero interventi</text><text x="918.8" y="203" font-size="20" fill="#16233a" text-anchor="middle" font-weight="normal" textLength="33" lengthAdjust="spacingAndGlyphs" stroke="#16233a" stroke-width="0.75">312</text><circle cx="125.3" cy="29.8" r="13.6" fill="#fff" stroke="#58bdf2" stroke-width="2.4"/><circle cx="125.3" cy="29.8" r="12.2" fill="none" stroke="#c8ecfc" stroke-width="0.6"/><g transform="translate(125.3,29.8)" fill="#2e2626"><path d="M-8.4,0.6 L0,-7.6 L8.4,0.6 L7,2 L0,-4.9 L-7,2 Z"/><path d="M-6.3,1.6 L0,-4 L6.3,1.6 L6.3,7.9 L2,7.9 L2,3.2 L-2,3.2 L-2,7.9 L-6.3,7.9 Z"/></g><circle cx="183.6" cy="25" r="14.5" fill="#22527a" opacity="0.5"/><circle cx="183.6" cy="25" r="13.0" fill="#1c3b58" stroke="#b6d6ee" stroke-width="1.3"/><g transform="translate(183.6,25)"><line x1="0" y1="-9.2" x2="0" y2="-5.8" stroke="#ddd" stroke-width="0.8"/><rect x="-2.8" y="-5.6" width="5.6" height="2" rx="0.8" fill="#e8e4e0"/><rect x="-4.6" y="-2" width="9.2" height="9.4" rx="0.6" fill="#dcd8d4"/><g stroke="#6a6460" stroke-width="0.5"><line x1="-3.9" y1="0" x2="3.9" y2="0"/><line x1="-3.9" y1="1.6" x2="3.9" y2="1.6"/><line x1="-3.9" y1="4" x2="3.9" y2="4"/><line x1="-3.9" y1="5.6" x2="3.9" y2="5.6"/><line x1="-2" y1="-1" x2="-2" y2="6.6"/><line x1="0" y1="-1" x2="0" y2="6.6"/><line x1="2" y1="-1" x2="2" y2="6.6"/></g></g><circle cx="277.4" cy="24.8" r="14.5" fill="#22527a" opacity="0.5"/><circle cx="277.4" cy="24.8" r="13.0" fill="#1c3b58" stroke="#b6d6ee" stroke-width="1.3"/><g transform="translate(277.4,24.8)"><g transform="translate(0.3,-3)"><circle r="3.9" fill="#f4f4f4"/><rect x="-0.9" y="-5.4" width="1.8" height="2.2" rx="0.4" fill="#f4f4f4" transform="rotate(0)"/><rect x="-0.9" y="-5.4" width="1.8" height="2.2" rx="0.4" fill="#f4f4f4" transform="rotate(45)"/><rect x="-0.9" y="-5.4" width="1.8" height="2.2" rx="0.4" fill="#f4f4f4" transform="rotate(90)"/><rect x="-0.9" y="-5.4" width="1.8" height="2.2" rx="0.4" fill="#f4f4f4" transform="rotate(135)"/><rect x="-0.9" y="-5.4" width="1.8" height="2.2" rx="0.4" fill="#f4f4f4" transform="rotate(180)"/><rect x="-0.9" y="-5.4" width="1.8" height="2.2" rx="0.4" fill="#f4f4f4" transform="rotate(225)"/><rect x="-0.9" y="-5.4" width="1.8" height="2.2" rx="0.4" fill="#f4f4f4" transform="rotate(270)"/><rect x="-0.9" y="-5.4" width="1.8" height="2.2" rx="0.4" fill="#f4f4f4" transform="rotate(315)"/><circle r="2.2" fill="#1c3b58"/></g><path d="M-8.2,-0.6 C-8.6,1.4 -8,4 -6,5.8 L-3.2,7.6 L-1.2,9.2 L-0.9,5.4 C-1.2,3.8 -2.6,3 -3.8,2 L-5.4,0.4 L-5.2,3 L-6.4,1.6 L-6.6,-1.4 Z" fill="#f4f4f4"/><path d="M8.6,-0.6 C9,1.4 8.4,4 6.4,5.8 L3.6,7.6 L1.6,9.2 L1.3,5.4 C1.6,3.8 3,3 4.2,2 L5.8,0.4 L5.6,3 L6.8,1.6 L7,-1.4 Z" fill="#f4f4f4"/></g><circle cx="380.4" cy="24.7" r="14.5" fill="#22527a" opacity="0.5"/><circle cx="380.4" cy="24.7" r="13.0" fill="#1c3b58" stroke="#b6d6ee" stroke-width="1.3"/><g transform="translate(380.4,24.7)"><rect x="-6.2" y="-7.6" width="11.5" height="15.6" fill="#7a8a98"/><rect x="-4.6" y="-6" width="10" height="14" fill="#f2f2f2"/><g fill="#333"><rect x="-3" y="-4.6" width="6.6" height="0.7"/><rect x="-1" y="-2.6" width="4.6" height="0.6"/><rect x="-3" y="-0.6" width="3" height="1"/><rect x="-3" y="2.4" width="3.5" height="0.8"/><rect x="-3" y="4.6" width="4" height="1"/></g><rect x="3.6" y="5" width="2" height="3" fill="#1c3b58"/></g><circle cx="484.3" cy="24.5" r="14.5" fill="#22527a" opacity="0.5"/><circle cx="484.3" cy="24.5" r="13.0" fill="#1c3b58" stroke="#b6d6ee" stroke-width="1.3"/><g transform="translate(484.3,24.5)"><path d="M-3.4,-4.2 C-3.4,-9.4 5,-9.4 5,-4.2 L5.8,-4.2 L5.8,-3.3 L-4.2,-3.3 L-4.2,-4.2 Z" fill="#e8f0f8"/><g transform="translate(-2.6,3)"><circle r="3.7" fill="#f0f4f8"/><rect x="-0.8" y="-5.0" width="1.6" height="2.2" fill="#f0f4f8" transform="rotate(0)"/><rect x="-0.8" y="-5.0" width="1.6" height="2.2" fill="#f0f4f8" transform="rotate(36)"/><rect x="-0.8" y="-5.0" width="1.6" height="2.2" fill="#f0f4f8" transform="rotate(72)"/><rect x="-0.8" y="-5.0" width="1.6" height="2.2" fill="#f0f4f8" transform="rotate(108)"/><rect x="-0.8" y="-5.0" width="1.6" height="2.2" fill="#f0f4f8" transform="rotate(144)"/><rect x="-0.8" y="-5.0" width="1.6" height="2.2" fill="#f0f4f8" transform="rotate(180)"/><rect x="-0.8" y="-5.0" width="1.6" height="2.2" fill="#f0f4f8" transform="rotate(216)"/><rect x="-0.8" y="-5.0" width="1.6" height="2.2" fill="#f0f4f8" transform="rotate(252)"/><rect x="-0.8" y="-5.0" width="1.6" height="2.2" fill="#f0f4f8" transform="rotate(288)"/><rect x="-0.8" y="-5.0" width="1.6" height="2.2" fill="#f0f4f8" transform="rotate(324)"/><circle r="1.1" fill="#c8d0d8"/></g><circle cx="5.4" cy="0.2" r="2.1" fill="#8aa0b8"/></g><circle cx="596.4" cy="24.6" r="14.5" fill="#22527a" opacity="0.5"/><circle cx="596.4" cy="24.6" r="13.0" fill="#1c3b58" stroke="#b6d6ee" stroke-width="1.3"/><g transform="translate(596.4,24.6)"><path d="M-5.6,-7.8 L5.8,-7.8 L5.8,6 L3.6,8.2 L-5.6,8.2 Z" fill="#f6f6f6"/><g fill="#5a4a50"><rect x="-3.8" y="-5.8" width="3.6" height="0.6"/><rect x="-3.8" y="-3.8" width="7.8" height="0.7"/><rect x="-3.8" y="-2" width="7.8" height="0.7"/><rect x="-3.8" y="-0.2" width="7.8" height="0.7"/></g><path d="M-4.2,6 L-4.2,3.8 L-2.4,2 L-0.6,3.8 L-0.6,6 Z" fill="#111"/><path d="M1,4 L2.2,5.2 L4.4,2.6" stroke="#333" stroke-width="0.7" fill="none"/><path d="M3.6,8.2 L5.8,6 L3.6,6 Z" fill="#222"/></g><circle cx="690.1" cy="24.4" r="14.5" fill="#22527a" opacity="0.5"/><circle cx="690.1" cy="24.4" r="13.0" fill="#1c3b58" stroke="#b6d6ee" stroke-width="1.3"/><g transform="translate(690.1,24.4)"><path d="M-8,-4.6 L-3,-2.8 L2,-4.6 L7,-2.8 L7,8.6 L2,6.8 L-3,8.6 L-8,6.8 Z M-3,-2.8 L-3,8.6 M2,-4.6 L2,6.8" fill="none" stroke="#dce8f2" stroke-width="1.1" stroke-linejoin="round"/><path d="M1.4,-1.2 C-1.8,-4.2 -2.2,-5.6 -2.2,-6.6 A3.1,3.1 0 0 1 4,-6.6 C4,-5.6 3.6,-4.2 1.4,-1.2 Z" fill="#c8d4e0" stroke="#e8f0f8" stroke-width="0.6"/></g><circle cx="785.4" cy="24.4" r="14.5" fill="#22527a" opacity="0.5"/><circle cx="785.4" cy="24.4" r="13.0" fill="#1c3b58" stroke="#b6d6ee" stroke-width="1.3"/><g transform="translate(785.4,24.4)"><path d="M-10.2,4.2 A10.2,12.2 0 0 1 10.2,4.2 C4,2.2 -4,2.2 -10.2,4.2 Z" fill="#f4f2f0"/><path d="M-8,2.6 A8,9.6 0 0 1 8,2.6" fill="none" stroke="#8a8480" stroke-width="1.1" stroke-dasharray="0.5,0.8"/><text x="0.2" y="2.2" font-size="7.4" font-weight="bold" fill="#111" text-anchor="middle">7</text></g><circle cx="879.1" cy="24.4" r="14.5" fill="#22527a" opacity="0.5"/><circle cx="879.1" cy="24.4" r="13.0" fill="#1c3b58" stroke="#b6d6ee" stroke-width="1.3"/><g transform="translate(879.1,24.4)"><path d="M-6.2,-7 L-4.4,-5.4 L-1.6,5.6 L6.2,3.8" fill="none" stroke="#d8e4ee" stroke-width="1.2" stroke-linecap="round"/><circle cx="-2.2" cy="6.2" r="1.6" fill="none" stroke="#d8e4ee" stroke-width="0.9"/><path d="M-2.8,-2.6 L0.4,-3.6 L1.6,-2.6 L3.6,-3.8 L4.8,3.2 L-1.2,4.4 Z" fill="#e6eef4"/><rect x="1.2" y="0" width="1.4" height="1.6" fill="#8898a8"/></g><circle cx="953.4" cy="24.4" r="14.5" fill="#22527a" opacity="0.5"/><circle cx="953.4" cy="24.4" r="13.0" fill="#1c3b58" stroke="#b6d6ee" stroke-width="1.3"/><g transform="translate(953.4,24.4)"><text x="-1" y="6.4" font-size="18.5" font-weight="bold" fill="#f4f6f8" text-anchor="middle">€</text></g><circle cx="1017.5" cy="24.4" r="14.5" fill="#22527a" opacity="0.5"/><circle cx="1017.5" cy="24.4" r="13.0" fill="#1c3b58" stroke="#b6d6ee" stroke-width="1.3"/><g transform="translate(1017.5,24.4)"><circle r="7.8" fill="#f6f8fa"/><circle cy="-3.4" r="1.05" fill="#333"/><circle cy="0" r="1.05" fill="#333"/><circle cy="3.4" r="1.05" fill="#333"/></g><circle cx="1080.6" cy="24.6" r="14.5" fill="#22527a" opacity="0.5"/><circle cx="1080.6" cy="24.6" r="13.0" fill="#1c3b58" stroke="#b6d6ee" stroke-width="1.3"/><g transform="translate(1080.6,24.6)"><circle r="9.4" fill="#f6f8fa"/><path d="M-5.8,0.4 C-6.8,-4 -4,-7.6 0.4,-7.6 C4.6,-7.8 7.2,-4 6.2,0.4" fill="none" stroke="#333" stroke-width="1"/><path d="M-4.2,-3.4 C-2.6,-5.4 2.2,-5.8 4.8,-3.2" fill="none" stroke="#555" stroke-width="0.7"/><path d="M-4.6,-1 C-4.8,4 -2,7.2 0.5,7.4 C3.2,7.2 5.2,4 5,-1" fill="none" stroke="#333" stroke-width="0.85"/><rect x="-6.8" y="-1.4" width="2.2" height="4.2" rx="0.8" fill="#222"/><rect x="5" y="-1.4" width="2.2" height="4.2" rx="0.8" fill="#222"/><path d="M-5.8,2.8 C-5,6 -2.4,6.8 -0.2,6.6" fill="none" stroke="#333" stroke-width="0.7"/><circle cx="-0.2" cy="6.4" r="1.1" fill="#333"/></g><g><defs><radialGradient id="lgg" cx="50%" cy="45%" r="60%"><stop offset="0" stop-color="#ffffff"/><stop offset="1" stop-color="#dcdcf4"/></radialGradient><clipPath id="lgc"><ellipse cx="47.8" cy="33.6" rx="45.6" ry="21.2"/></clipPath></defs><ellipse cx="47.8" cy="33.6" rx="45.6" ry="21.2" fill="url(#lgg)"/><g clip-path="url(#lgc)" stroke="#a8a8d4" stroke-width="0.45" fill="none"><ellipse cx="47.8" cy="33.6" rx="5.07" ry="21.2"/><ellipse cx="47.8" cy="33.6" rx="10.13" ry="21.2"/><ellipse cx="47.8" cy="33.6" rx="15.20" ry="21.2"/><ellipse cx="47.8" cy="33.6" rx="20.27" ry="21.2"/><ellipse cx="47.8" cy="33.6" rx="25.33" ry="21.2"/><ellipse cx="47.8" cy="33.6" rx="30.40" ry="21.2"/><ellipse cx="47.8" cy="33.6" rx="35.47" ry="21.2"/><ellipse cx="47.8" cy="33.6" rx="40.53" ry="21.2"/><line x1="0" y1="16" x2="99" y2="16" stroke="#c8c8e4"/><line x1="0" y1="20" x2="99" y2="20" stroke="#c8c8e4"/><line x1="0" y1="24" x2="99" y2="24" stroke="#c8c8e4"/><line x1="0" y1="28" x2="99" y2="28" stroke="#c8c8e4"/><line x1="0" y1="32" x2="99" y2="32" stroke="#c8c8e4"/><line x1="0" y1="36" x2="99" y2="36" stroke="#c8c8e4"/><line x1="0" y1="40" x2="99" y2="40" stroke="#c8c8e4"/><line x1="0" y1="44" x2="99" y2="44" stroke="#c8c8e4"/><line x1="0" y1="48" x2="99" y2="48" stroke="#c8c8e4"/><line x1="0" y1="52" x2="99" y2="52" stroke="#c8c8e4"/></g><ellipse cx="47.8" cy="33.6" rx="45.6" ry="21.2" fill="none" stroke="#8f8fc6" stroke-width="0.9"/><text x="11.6" y="36.4" font-family="Liberation Serif, serif" font-size="9.8" font-weight="bold" fill="#28287a" stroke="#28287a" stroke-width="0.35" text-anchor="middle">G</text><text x="26.2" y="36.4" font-family="Liberation Serif, serif" font-size="9.8" font-weight="bold" fill="#28287a" stroke="#28287a" stroke-width="0.35" text-anchor="middle">E</text><text x="42" y="36.4" font-family="Liberation Serif, serif" font-size="9.8" font-weight="bold" fill="#28287a" stroke="#28287a" stroke-width="0.35" text-anchor="middle">O</text><text x="56" y="36.4" font-family="Liberation Serif, serif" font-size="9.8" font-weight="bold" fill="#28287a" stroke="#28287a" stroke-width="0.35" text-anchor="middle">M</text><text x="70.5" y="36.4" font-family="Liberation Serif, serif" font-size="9.8" font-weight="bold" fill="#28287a" stroke="#28287a" stroke-width="0.35" text-anchor="middle">A</text><text x="85" y="36.4" font-family="Liberation Serif, serif" font-size="9.8" font-weight="bold" fill="#28287a" stroke="#28287a" stroke-width="0.35" text-anchor="middle">P</text><text x="91.6" y="30.6" font-size="3" fill="#55558a">®</text></g></svg>
</body></html>
